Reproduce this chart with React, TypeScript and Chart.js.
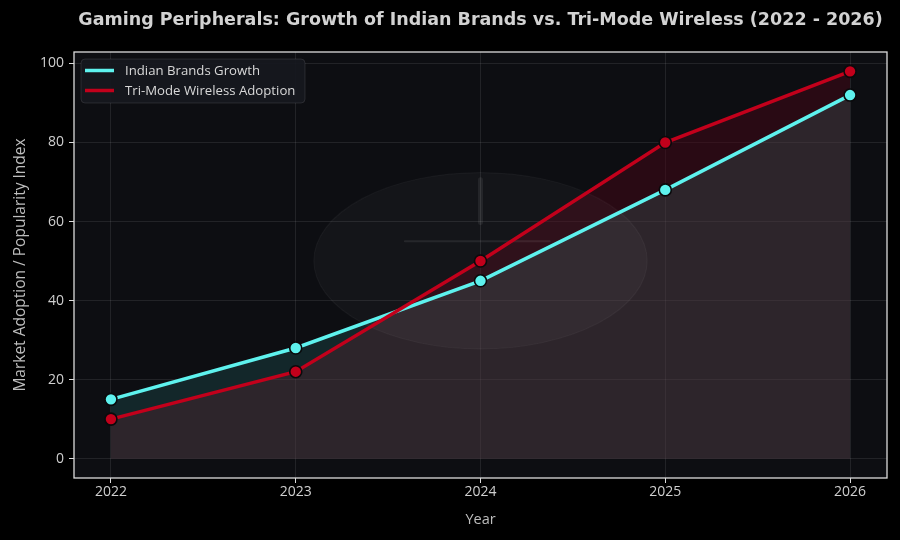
import React, { useEffect, useRef } from "react";
import { Chart, registerables } from "chart.js";

Chart.register(...registerables);

// Data
const years = [2022, 2023, 2024, 2025, 2026];
const indianBrands = [15, 28, 45, 68, 92];
const triModeWireless = [10, 22, 50, 80, 98];
const yTicks = [0, 20, 40, 60, 80, 100];

const TITLE = "Gaming Peripherals: Growth of Indian Brands vs. Tri-Mode Wireless (2022 - 2026)";
const SERIES_LABELS = ["Indian Brands Growth", "Tri-Mode Wireless Adoption"];

const CYAN = "#5ef2ee";
const RED = "#c2001b";
const PLOT_BG = "#0d0e12";
const PINK_FILL = "rgba(78,60,67,0.5)";
const TEAL_BAND = "#13272a";
const RED_BAND = "rgba(70,6,22,0.5)";
const GRID = "rgba(255,255,255,0.09)";
const SPINE = "#dcdcdc";
const UI_FONT = "'Open Sans', 'Noto Sans', sans-serif";

const backgroundPlugin = {
  id: "plotBackground",
  beforeDraw(chart: any) {
    const { ctx, chartArea: a, width, height } = chart;
    ctx.save();
    ctx.fillStyle = "#000000";
    ctx.fillRect(0, 0, width, height);
    ctx.fillStyle = PLOT_BG;
    ctx.fillRect(a.left, a.top, a.right - a.left, a.bottom - a.top);
    ctx.restore();
  },
};

// Faint emblem in the middle of the plot, behind the lines
const emblemPlugin = {
  id: "emblem",
  beforeDatasetsDraw(chart: any) {
    const { ctx, chartArea: a } = chart;
    const w = a.right - a.left;
    const h = a.bottom - a.top;
    const cx = a.left + w * 0.5;
    const cy = a.top + h * 0.49;
    ctx.save();
    ctx.beginPath();
    ctx.ellipse(cx, cy, w * 0.205, h * 0.207, 0, 0, Math.PI * 2);
    ctx.fillStyle = "rgba(255,255,255,0.032)";
    ctx.fill();
    ctx.strokeStyle = "rgba(255,255,255,0.04)";
    ctx.lineWidth = 1.2;
    ctx.stroke();
    // vertical stroke
    ctx.strokeStyle = "rgba(255,255,255,0.07)";
    ctx.lineCap = "round";
    ctx.lineWidth = 5;
    ctx.beginPath();
    ctx.moveTo(cx, a.top + h * 0.30);
    ctx.lineTo(cx, a.top + h * 0.40);
    ctx.stroke();
    // horizontal stroke
    ctx.lineWidth = 2;
    ctx.strokeStyle = "rgba(255,255,255,0.08)";
    ctx.beginPath();
    ctx.moveTo(cx - w * 0.093, a.top + h * 0.444);
    ctx.lineTo(cx + w * 0.085, a.top + h * 0.444);
    ctx.stroke();
    ctx.restore();
  },
};

const framePlugin = {
  id: "frameAndText",
  afterDraw(chart: any) {
    const { ctx, chartArea: a } = chart;
    ctx.save();
    // spines
    ctx.strokeStyle = SPINE;
    ctx.lineWidth = 1.3;
    ctx.strokeRect(a.left, a.top, a.right - a.left, a.bottom - a.top);

    // title
    ctx.fillStyle = "#d2d2d2";
    ctx.font = "bold 17.5px 'DejaVu Sans', sans-serif";
    ctx.textAlign = "center";
    ctx.textBaseline = "middle";
    ctx.fillText(TITLE, (a.left + a.right) / 2, 20);

    // legend
    const lx = a.left + 7;
    const ly = a.top + 7;
    const lw = 224;
    const lh = 44;
    ctx.beginPath();
    ctx.roundRect(lx, ly, lw, lh, 4);
    ctx.fillStyle = "rgba(22,24,30,0.92)";
    ctx.fill();
    ctx.strokeStyle = "rgba(255,255,255,0.10)";
    ctx.lineWidth = 1;
    ctx.stroke();
    const colors = [CYAN, RED];
    ctx.font = `13.2px ${UI_FONT}`;
    ctx.textAlign = "left";
    SERIES_LABELS.forEach((label, i) => {
      const y = ly + 11.5 + i * 20;
      ctx.strokeStyle = colors[i];
      ctx.lineWidth = 3.5;
      ctx.lineCap = "butt";
      ctx.beginPath();
      ctx.moveTo(lx + 4, y);
      ctx.lineTo(lx + 33, y);
      ctx.stroke();
      ctx.fillStyle = "#d8d8d8";
      ctx.fillText(label, lx + 44, y + 0.5);
    });
    ctx.restore();
  },
};

export default function App() {
  const canvasRef = useRef<HTMLCanvasElement | null>(null);

  useEffect(() => {
    document.body.style.margin = "0";
    document.body.style.background = "#000";
    const canvas = canvasRef.current;
    if (!canvas) return;

    const toPoints = (vals: number[]) => vals.map((v, i) => ({ x: years[i], y: v }));

    const chart = new Chart(canvas, {
      type: "line",
      data: {
        datasets: [
          {
            label: SERIES_LABELS[0],
            data: toPoints(indianBrands),
            borderColor: CYAN,
            backgroundColor: CYAN,
            borderWidth: 3.5,
            pointRadius: 6,
            pointHoverRadius: 6,
            pointBackgroundColor: CYAN,
            pointBorderColor: "#0a0a0c",
            pointBorderWidth: 1.6,
            tension: 0,
            fill: { target: "origin", above: PINK_FILL, below: PINK_FILL },
            order: 1,
          },
          {
            label: SERIES_LABELS[1],
            data: toPoints(triModeWireless),
            borderColor: RED,
            backgroundColor: RED,
            borderWidth: 3.5,
            pointRadius: 6,
            pointHoverRadius: 6,
            pointBackgroundColor: RED,
            pointBorderColor: "#0a0a0c",
            pointBorderWidth: 1.6,
            tension: 0,
            fill: { target: 0, above: RED_BAND, below: TEAL_BAND },
            order: 0,
          },
        ],
      },
      options: {
        responsive: false,
        animation: false,
        events: [],
        layout: { padding: { top: 52, right: 13, left: 0, bottom: 0 } },
        plugins: {
          legend: { display: false },
          title: { display: false },
          tooltip: { enabled: false },
          filler: { drawTime: "beforeDatasetsDraw" },
        },
        scales: {
          x: {
            type: "linear",
            min: 2021.8,
            max: 2026.2,
            afterBuildTicks: (s: any) => {
              s.ticks = years.map((v) => ({ value: v }));
            },
            afterFit: (s: any) => {
              s.height = 62;
            },
            ticks: {
              color: "#cfcfcf",
              font: { family: UI_FONT, size: 14 },
              padding: 1,
              callback: (v: any) => String(v),
            },
            grid: { color: GRID, tickColor: SPINE, tickLength: 5, lineWidth: 1 },
            border: { display: false },
            title: {
              display: true,
              text: "Year",
              color: "#bdbdbd",
              font: { family: UI_FONT, size: 14.5 },
              padding: { top: 4, bottom: 11 },
            },
          },
          y: {
            min: -4.9,
            max: 102.9,
            afterBuildTicks: (s: any) => {
              s.ticks = yTicks.map((v) => ({ value: v }));
            },
            afterFit: (s: any) => {
              s.width = 74;
            },
            ticks: {
              color: "#cfcfcf",
              font: { family: UI_FONT, size: 14 },
              padding: 5,
            },
            grid: { color: GRID, tickColor: SPINE, tickLength: 5, lineWidth: 1 },
            border: { display: false },
            title: {
              display: true,
              text: "Market Adoption / Popularity Index",
              color: "#bdbdbd",
              font: { family: UI_FONT, size: 15.5 },
              padding: { top: 11, bottom: 6 },
            },
          },
        },
      },
      plugins: [backgroundPlugin, emblemPlugin, framePlugin],
    } as any);

    return () => chart.destroy();
  }, []);

  return (
    <div style={{ width: 900, height: 540, background: "#000" }}>
      <canvas ref={canvasRef} width={900} height={540} style={{ display: "block" }} />
    </div>
  );
}
